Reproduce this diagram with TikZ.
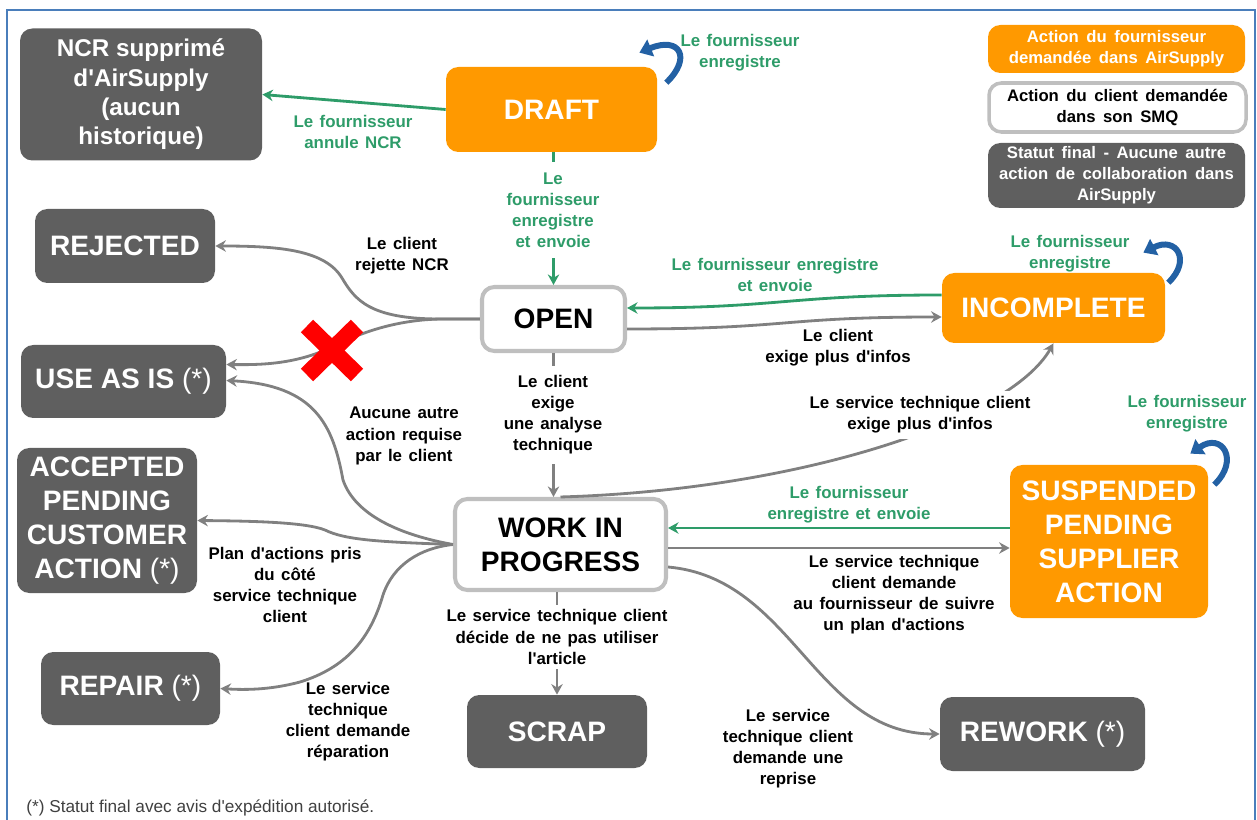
\documentclass[tikz,border=0pt]{standalone}
\usepackage{fontspec}
\setmainfont{Liberation Sans}
\usetikzlibrary{arrows.meta,calc}

\definecolor{supplier}{HTML}{FF9900}
\definecolor{finalst}{HTML}{5F5F5F}
\definecolor{frame}{HTML}{BFBFBF}
\definecolor{flowgray}{HTML}{808080}
\definecolor{flowgreen}{HTML}{2E9C69}
\definecolor{loopblue}{HTML}{2361A4}
\definecolor{pageblue}{HTML}{4A7EBB}
\definecolor{notegray}{HTML}{404040}

\newcommand{\ap}{\textquotesingle}
\newlength{\legspace}\setlength{\legspace}{0.45em}
\newcommand{\legwords}{\spaceskip=0.45em\relax}
\newcommand{\lblwords}{\spaceskip=0.38em\relax}

\begin{document}
\begin{tikzpicture}[x=0.02cm,y=-0.02cm,
  box/.style 2 args={rounded corners=7pt, minimum width=#1*0.02cm,
    minimum height=#2*0.02cm, inner sep=0pt, align=center,
    font=\bfseries\fontsize{16}{19.3}\selectfont},
  supbox/.style 2 args={box={#1}{#2}, fill=supplier, text=white},
  finbox/.style 2 args={box={#1}{#2}, fill=finalst, text=white},
  clibox/.style 2 args={box={#1}{#2}, draw=frame, line width=2.3pt, fill=white, text=black},
  legfont/.style={font=\bfseries\fontsize{9.5}{11.9}\selectfont\legwords},
  lbl/.style={align=center, font=\bfseries\fontsize{9.6}{12}\selectfont\lblwords,
    inner sep=1pt, text=black},
  glbl/.style={lbl, text=flowgreen},
  grayflow/.style={draw=flowgray, line width=1.6pt, -{Stealth[length=6pt,width=6.5pt]}},
  greenflow/.style={draw=flowgreen, line width=1.6pt, -{Stealth[length=6pt,width=6.5pt]}},
  selfloop/.style={draw=loopblue, line width=3.4pt, -{Triangle[length=7pt,width=10pt]}},
]
\useasboundingbox (0,0) rectangle (1257,820);

% page frame
\draw[pageblue, line width=1pt] (7,820) -- (7,10) -- (1255,10) -- (1255,820);

% legend
\node[supbox={257}{48}, legfont] (legA) at (1116.5,49) {Action du fournisseur\\demandée dans AirSupply};
\node[clibox={257}{49}, legfont, line width=2pt] (legB) at (1117.5,107.5) {Action du client demandée\\dans son SMQ};
\node[finbox={257}{65}, legfont] (legC) at (1116.5,175.5) {Statut final - Aucune autre\\action de collaboration dans\\AirSupply};

% states
\node[finbox={242}{132}, font=\bfseries\fontsize{13.8}{16.7}\selectfont] (ncr) at (141,94.5)
  {NCR supprimé\\d\ap AirSupply\\(aucun\\historique)};
\node[supbox={211}{85}] (draft) at (551.5,109.5) {DRAFT};
\node[finbox={180}{74}] (rejected) at (125,246) {REJECTED};
\node[clibox={143}{64}] (open) at (553.5,319) {OPEN};
\node[supbox={223}{70}] (incomplete) at (1053.5,308) {INCOMPLETE};
\node[finbox={205}{73}] (useasis) at (123.5,381.5) {USE AS IS {\mdseries(*)}};
\node[finbox={180}{145}] (accepted) at (107,520.5) {ACCEPTED\\PENDING\\CUSTOMER\\ACTION {\mdseries(*)}};
\node[clibox={211}{91}] (wip) at (560.5,544.5) {WORK IN\\PROGRESS};
\node[supbox={198}{153}] (suspended) at (1109,541.5) {SUSPENDED\\PENDING\\SUPPLIER\\ACTION};
\node[finbox={179}{73}] (repair) at (130.5,688.5) {REPAIR {\mdseries(*)}};
\node[finbox={180}{73}] (scrap) at (557,731.5) {SCRAP};
\node[finbox={205}{74}] (rework) at (1042.5,734) {REWORK {\mdseries(*)}};

% supplier transitions
\draw[greenflow] (draft.west) -- (ncr.east);
\draw[greenflow] (open.north |- draft.south) -- (open.north);
\draw[greenflow] ($(incomplete.west)+(0,-13)$) .. controls (790,295) and (780,308) .. ($(open.east)+(0,-11)$);
\draw[greenflow] ($(suspended.west)+(0,-13.5)$) -- ($(wip.east)+(0,-16.5)$);

% self loops (supplier saves)
\draw[selfloop] ($(draft.north east)+(9,16)$) .. controls (692,58) and (680,36) .. ($(draft.north east)+(-18,-14)$);
\draw[selfloop] ($(incomplete.north east)+(3,10)$) .. controls (1192,260) and (1176,236) .. ($(incomplete.north east)+(-22,-20)$);
\draw[selfloop] ($(suspended.north east)+(6,20)$) .. controls (1240,460) and (1222,432) .. ($(suspended.north east)+(-18,-11)$);

% customer transitions from OPEN
\draw[grayflow] (open.west) -- (440,319) .. controls (370,319) and (355,300) .. (342,278)
  .. controls (325,250) and (280,246) .. (rejected.east);
\draw[grayflow] (open.west) -- (440,319) .. controls (400,320) and (365,330) .. (330,348)
  .. controls (295,364) and (262,365) .. ($(useasis.east)+(0,-17)$);
\draw[grayflow] ($(open.east)+(0,10)$) .. controls (790,329) and (780,317) .. ($(incomplete.west)+(0,9)$);
\draw[grayflow] (open.south) -- (open.south |- wip.north);

% transitions from WORK IN PROGRESS
\draw[grayflow] (wip.north) .. controls (800,490) and (1010,420) .. (incomplete.south);
\draw[grayflow] ($(wip.east)+(0,3.5)$) -- ($(suspended.west)+(0,6.5)$);
\draw[grayflow] ($(wip.east)+(0,22.5)$) .. controls (793,578) and (815,734) .. (rework.west);
\draw[grayflow] (wip.south -| scrap.north) -- (scrap.north);
\draw[grayflow] (wip.west) .. controls (400,535) and (355,515) .. (343,480)
  .. controls (333,425) and (315,385) .. ($(useasis.east)+(0,-1)$);
\draw[grayflow] (wip.west) .. controls (380,542) and (345,540) .. (325,530)
  .. controls (305,522) and (250,521) .. (accepted.east);
\draw[grayflow] (wip.west) .. controls (420,548) and (393,565) .. (383,595)
  .. controls (370,640) and (345,668) .. (300,682)
  .. controls (270,690) and (245,690) .. (repair.east);

% forbidden transition
\draw[red, line width=10pt] (307,326) -- (357,375);
\draw[red, line width=10pt] (357,326) -- (307,375);

% transition labels
\node[glbl] (lCancel) at (353,132) {Le fournisseur\\annule NCR};
\node[glbl] (lDraftSave) at (740,53) {Le fournisseur\\enregistre};
\node[glbl, fill=white, inner ysep=6pt] (lDraftSend) at (553,210) {Le\\fournisseur\\enregistre\\et envoie};
\node[lbl] (lReject) at (402,256) {Le client\\rejette NCR};
\node[glbl] (lIncSend) at (775,275) {Le fournisseur enregistre\\et envoie};
\node[lbl] (lMoreInfo) at (838,348) {Le client\\exige plus d\ap infos};
\node[glbl] (lIncSave) at (1070,254) {Le fournisseur\\enregistre};
\node[lbl, fill=white, inner ysep=5.5pt] (lAnalysis) at (553,415) {Le client\\exige\\une analyse\\technique};
\node[lbl, fill=white, inner sep=3pt] (lTechInfo) at (920,415) {Le service technique client\\exige plus d\ap infos};
\node[lbl] (lNoAction) at (404,436) {Aucune autre\\action requise\\par le client};
\node[glbl] (lSuspSend) at (849,505) {Le fournisseur\\enregistre et envoie};
\node[glbl] (lSuspSave) at (1187,414) {Le fournisseur\\enregistre};
\node[lbl] (lPlan) at (285,585) {Plan d\ap actions pris\\du côté\\service technique\\client};
\node[lbl] (lSupplierPlan) at (894,595) {Le service technique\\client demande\\au fournisseur de suivre\\un plan d\ap actions};
\node[lbl, fill=white, inner ysep=2.5pt] (lScrap) at (557,637) {Le service technique client\\décide de ne pas utiliser\\l\ap article};
\node[lbl] (lRepair) at (348,722) {Le service\\technique\\client demande\\réparation};
\node[lbl] (lRework) at (788,749) {Le service\\technique client\\demande une\\reprise};

% footnote
\node[anchor=west, inner sep=0pt, text=notegray, font=\fontsize{9.8}{12}\selectfont] (note) at (26,808)
  {(*) Statut final avec avis d\ap expédition autorisé.};
\end{tikzpicture}
\end{document}
